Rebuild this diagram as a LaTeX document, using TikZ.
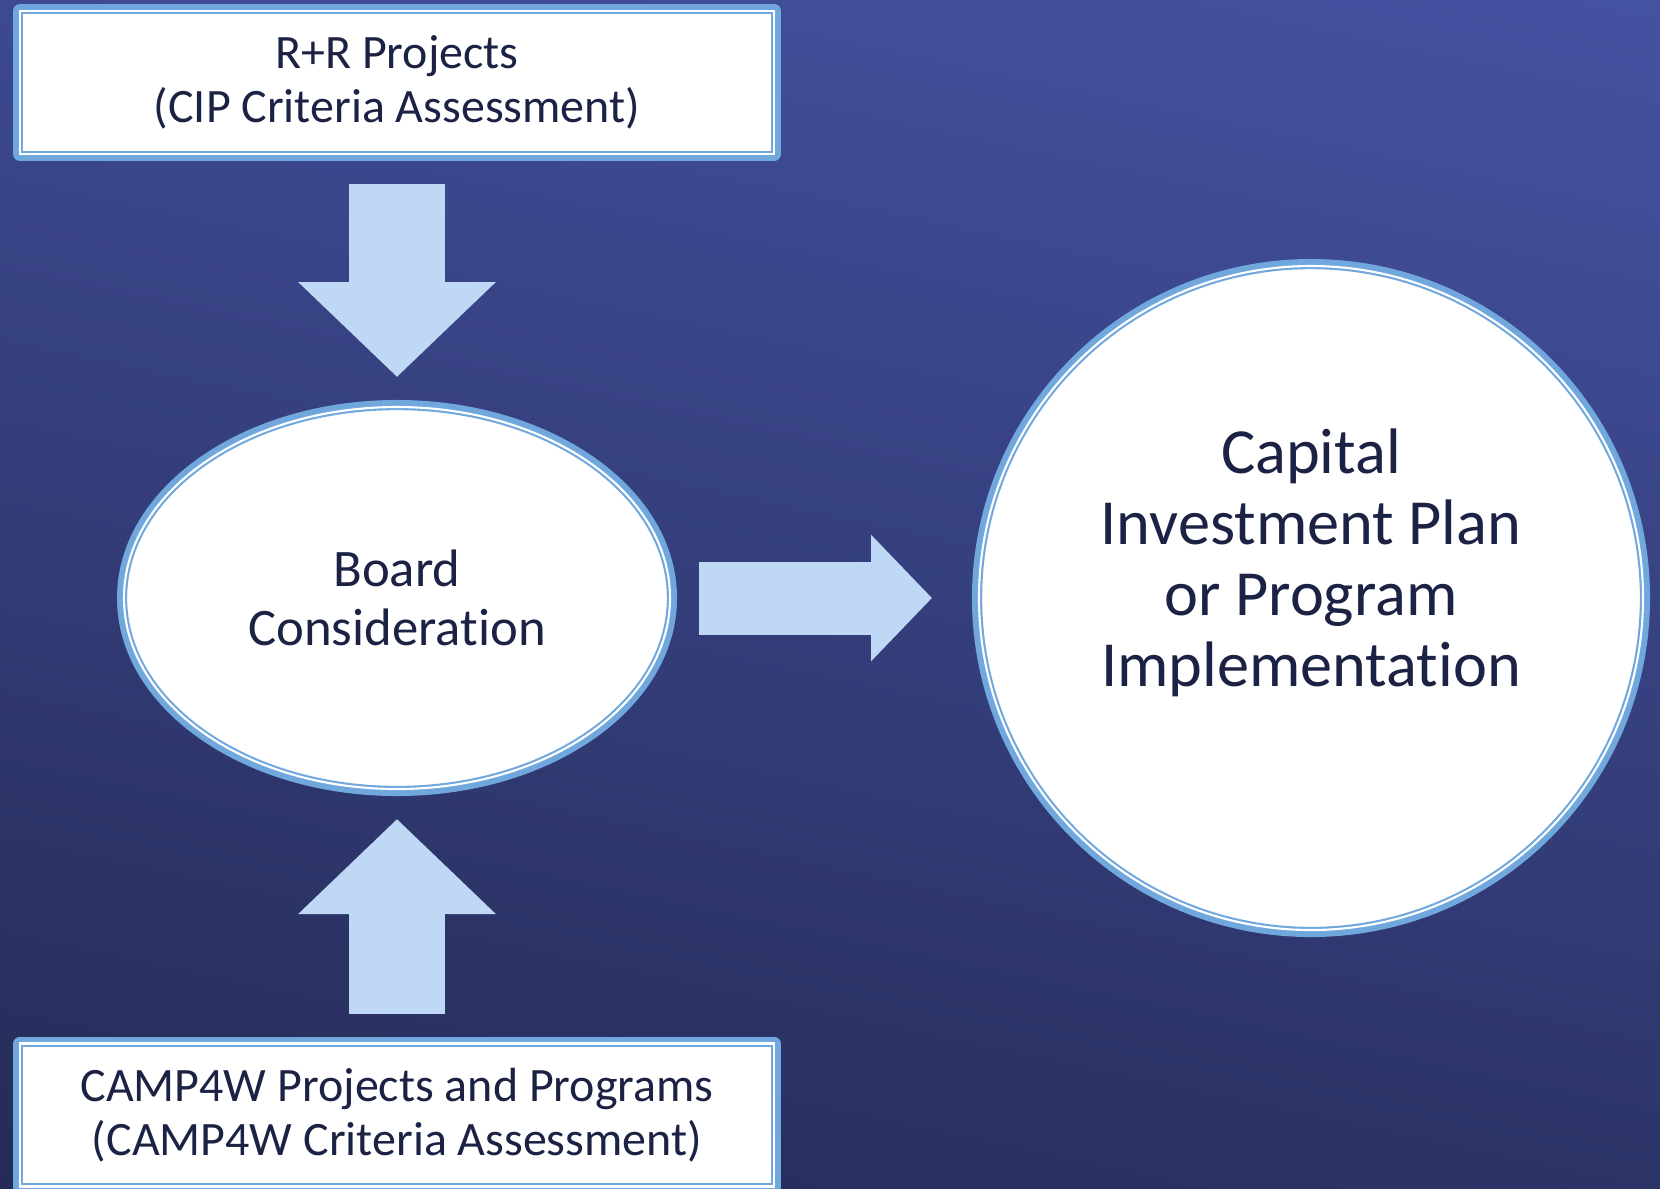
\documentclass[tikz,border=0pt]{standalone}
\usepackage{fontspec}
\setmainfont[Ligatures=NoCommon]{Carlito}
\usepackage{tikz}
\usetikzlibrary{arrows.meta,positioning,shapes.geometric}
\definecolor{bgtop}{RGB}{70,84,166}
\definecolor{bgbot}{RGB}{35,41,82}
\definecolor{edgeblue}{RGB}{112,168,222}
\definecolor{arrowblue}{RGB}{190,216,245}
\definecolor{inkblue}{RGB}{27,34,68}
\tikzset{
frame/.style={fill=white,draw=edgeblue,line width=0.6pt,double=white,double distance=0.6pt,
  preaction={draw=edgeblue,line width=4pt,line join=round},
  text=inkblue,inner sep=0pt,outer sep=0pt,align=center},
critbox/.style={frame,rectangle,minimum width=7.54cm,minimum height=1.43cm,
  font=\fontsize{13.65}{15.4}\selectfont},
boardoval/.style={frame,ellipse,minimum width=5.46cm,minimum height=3.82cm,
  font=\fontsize{15}{16.8}\selectfont},
plancircle/.style={frame,circle,minimum size=6.64cm},
plantext/.style={text=inkblue,align=center,font=\fontsize{18.3}{20.2}\selectfont},
fatv/.style={draw=arrowblue,line width=0.96cm,-{Triangle[length=0.95cm,width=1.92cm]},
  shorten <=0.30cm,shorten >=0.30cm},
fath/.style={draw=arrowblue,line width=0.73cm,-{Triangle[length=0.61cm,width=1.23cm]},
  shorten <=0.29cm,shorten >=0.47cm}
}
\begin{document}
\begin{tikzpicture}
\useasboundingbox (0,0) rectangle (16.6,-11.88);
\clip (0,0) rectangle (16.6,-11.88);
\shade[top color=bgtop,bottom color=bgbot,shading angle=-12] (-2,2) rectangle (18.6,-13.88);
\node[critbox] (rr) at (3.97,-0.825) {R+R Projects\\(CIP Criteria Assessment)};
\node[boardoval] (board) at (3.97,-5.98) {Board\\Consideration};
\node[plancircle] (cip) at (13.11,-5.98) {};
\node[plantext] at (13.11,-5.63) {Capital\\Investment Plan\\or Program\\Implementation};
\node[critbox] (camp) at (3.97,-11.15) {CAMP4W Projects and Programs\\(CAMP4W Criteria Assessment)};
\path
(rr) edge[fatv] (board)
(camp) edge[fatv] (board)
(board) edge[fath] (cip);
\end{tikzpicture}
\end{document}
